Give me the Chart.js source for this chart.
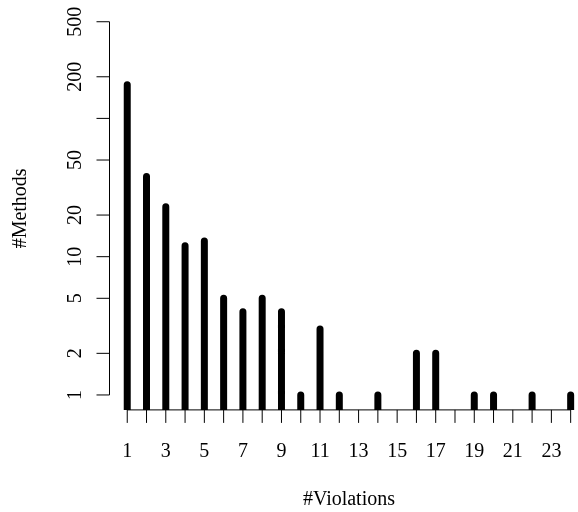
<!DOCTYPE html>
<html>
<head>
<meta charset="utf-8">
<script src="https://cdn.jsdelivr.net/npm/chart.js@4.4.1/dist/chart.umd.min.js"></script>
<style>
  html, body { margin: 0; padding: 0; background: #fff; overflow: hidden; }
  canvas { display: block; }
</style>
</head>
<body>
<canvas id="c" width="600" height="512"></canvas>
<script>
// ---- data ----
const violations   = [1, 2, 3, 4, 5, 6, 7, 8, 9, 10, 11, 12, 14, 16, 17, 19, 20, 22, 24];
const methodCounts = [175, 38, 23, 12, 13, 5, 4, 5, 4, 1, 3, 1, 1, 2, 2, 1, 1, 1, 1];

const xTickValues = [1, 2, 3, 4, 5, 6, 7, 8, 9, 10, 11, 12, 13, 14, 15, 16, 17, 18, 19, 20, 21, 22, 23, 24];
const xTickLabels = ['1', '', '3', '', '5', '', '7', '', '9', '', '11', '', '13', '', '15', '', '17', '', '19', '', '21', '', '23', ''];
const yTickValues = [1, 2, 5, 10, 20, 50, 100, 200, 500];
const yTickLabels = ['1', '2', '5', '10', '20', '50', '', '200', '500'];

const xTitle = '#Violations';
const yTitle = '#Methods';

// ---- axis ranges (R style 4% extension) ----
const xMin = 0.08, xMax = 24.92;
const yMin = Math.pow(10, -0.108), yMax = Math.pow(10, 2.807);

const FONT = '"Liberation Serif", "Times New Roman", serif';
const TICK_LEN = 13;

// build "type h" segments: base -> value, separated by gaps
const segData = [];
violations.forEach((v, i) => {
  segData.push({ x: v, y: yMin });
  segData.push({ x: v, y: methodCounts[i] });
  segData.push({ x: v, y: null });
});

function zeroPad(s) {
  s.paddingTop = 0; s.paddingBottom = 0; s.paddingLeft = 0; s.paddingRight = 0;
}

const axesPlugin = {
  id: 'rAxes',
  afterDraw(chart) {
    const ctx = chart.ctx;
    const xs = chart.scales.x, ys = chart.scales.y;
    const area = chart.chartArea;
    ctx.save();
    ctx.strokeStyle = '#000';
    ctx.lineWidth = 1;
    ctx.lineCap = 'butt';
    // x axis
    const yb = area.bottom;
    ctx.beginPath();
    ctx.moveTo(xs.getPixelForValue(xTickValues[0]), yb);
    ctx.lineTo(xs.getPixelForValue(xTickValues[xTickValues.length - 1]), yb);
    xTickValues.forEach(v => {
      const px = xs.getPixelForValue(v);
      ctx.moveTo(px, yb);
      ctx.lineTo(px, yb + TICK_LEN);
    });
    ctx.stroke();
    // y axis
    const xl = area.left;
    ctx.beginPath();
    ctx.moveTo(xl, ys.getPixelForValue(yTickValues[0]));
    ctx.lineTo(xl, ys.getPixelForValue(yTickValues[yTickValues.length - 1]));
    yTickValues.forEach(v => {
      const py = ys.getPixelForValue(v);
      ctx.moveTo(xl, py);
      ctx.lineTo(xl - TICK_LEN, py);
    });
    ctx.stroke();
    ctx.restore();
  }
};

new Chart(document.getElementById('c'), {
  type: 'line',
  data: {
    datasets: [{
      data: segData,
      borderColor: '#000',
      borderWidth: 7,
      borderCapStyle: 'round',
      pointRadius: 0,
      pointHoverRadius: 0,
      spanGaps: false,
      tension: 0,
      clip: 0
    }]
  },
  options: {
    responsive: false,
    animation: false,
    devicePixelRatio: 1,
    events: [],
    layout: { autoPadding: false, padding: { left: 0, right: 11.6, top: 6.8, bottom: 0 } },
    plugins: { legend: { display: false }, tooltip: { enabled: false } },
    scales: {
      x: {
        type: 'linear',
        bounds: 'data',
        min: xMin,
        max: xMax,
        afterBuildTicks: s => {
          s.ticks = xTickValues.map(v => ({ value: v }));
          s.min = xMin; s.max = xMax;
        },
        afterFit: s => { s.height = 102.1; zeroPad(s); },
        grid: { display: false, drawTicks: false },
        border: { display: false },
        ticks: {
          autoSkip: false,
          maxRotation: 0,
          minRotation: 0,
          padding: 30,
          color: '#000',
          font: { family: FONT, size: 20 },
          callback: (val) => {
            const i = xTickValues.indexOf(val);
            return i >= 0 ? xTickLabels[i] : '';
          }
        },
        title: {
          display: true,
          text: xTitle,
          color: '#000',
          font: { family: FONT, size: 20, lineHeight: 1.2 },
          padding: { top: 0, bottom: 0 }
        }
      },
      y: {
        type: 'logarithmic',
        bounds: 'data',
        min: yMin,
        max: yMax,
        afterBuildTicks: s => {
          s.ticks = yTickValues.map(v => ({ value: v }));
          s.min = yMin; s.max = yMax;
        },
        afterFit: s => { s.width = 109.5; zeroPad(s); },
        grid: { display: false, drawTicks: false },
        border: { display: false },
        ticks: {
          autoSkip: false,
          minRotation: 90,
          maxRotation: 90,
          crossAlign: 'center',
          padding: 19,
          color: '#000',
          font: { family: FONT, size: 20 },
          callback: (val) => {
            const i = yTickValues.indexOf(val);
            return i >= 0 ? yTickLabels[i] : '';
          }
        },
        title: {
          display: true,
          text: yTitle,
          color: '#000',
          font: { family: FONT, size: 20, lineHeight: 1.2 },
          padding: { top: 9, bottom: 0 }
        }
      }
    }
  },
  plugins: [axesPlugin]
});
</script>
</body>
</html>
